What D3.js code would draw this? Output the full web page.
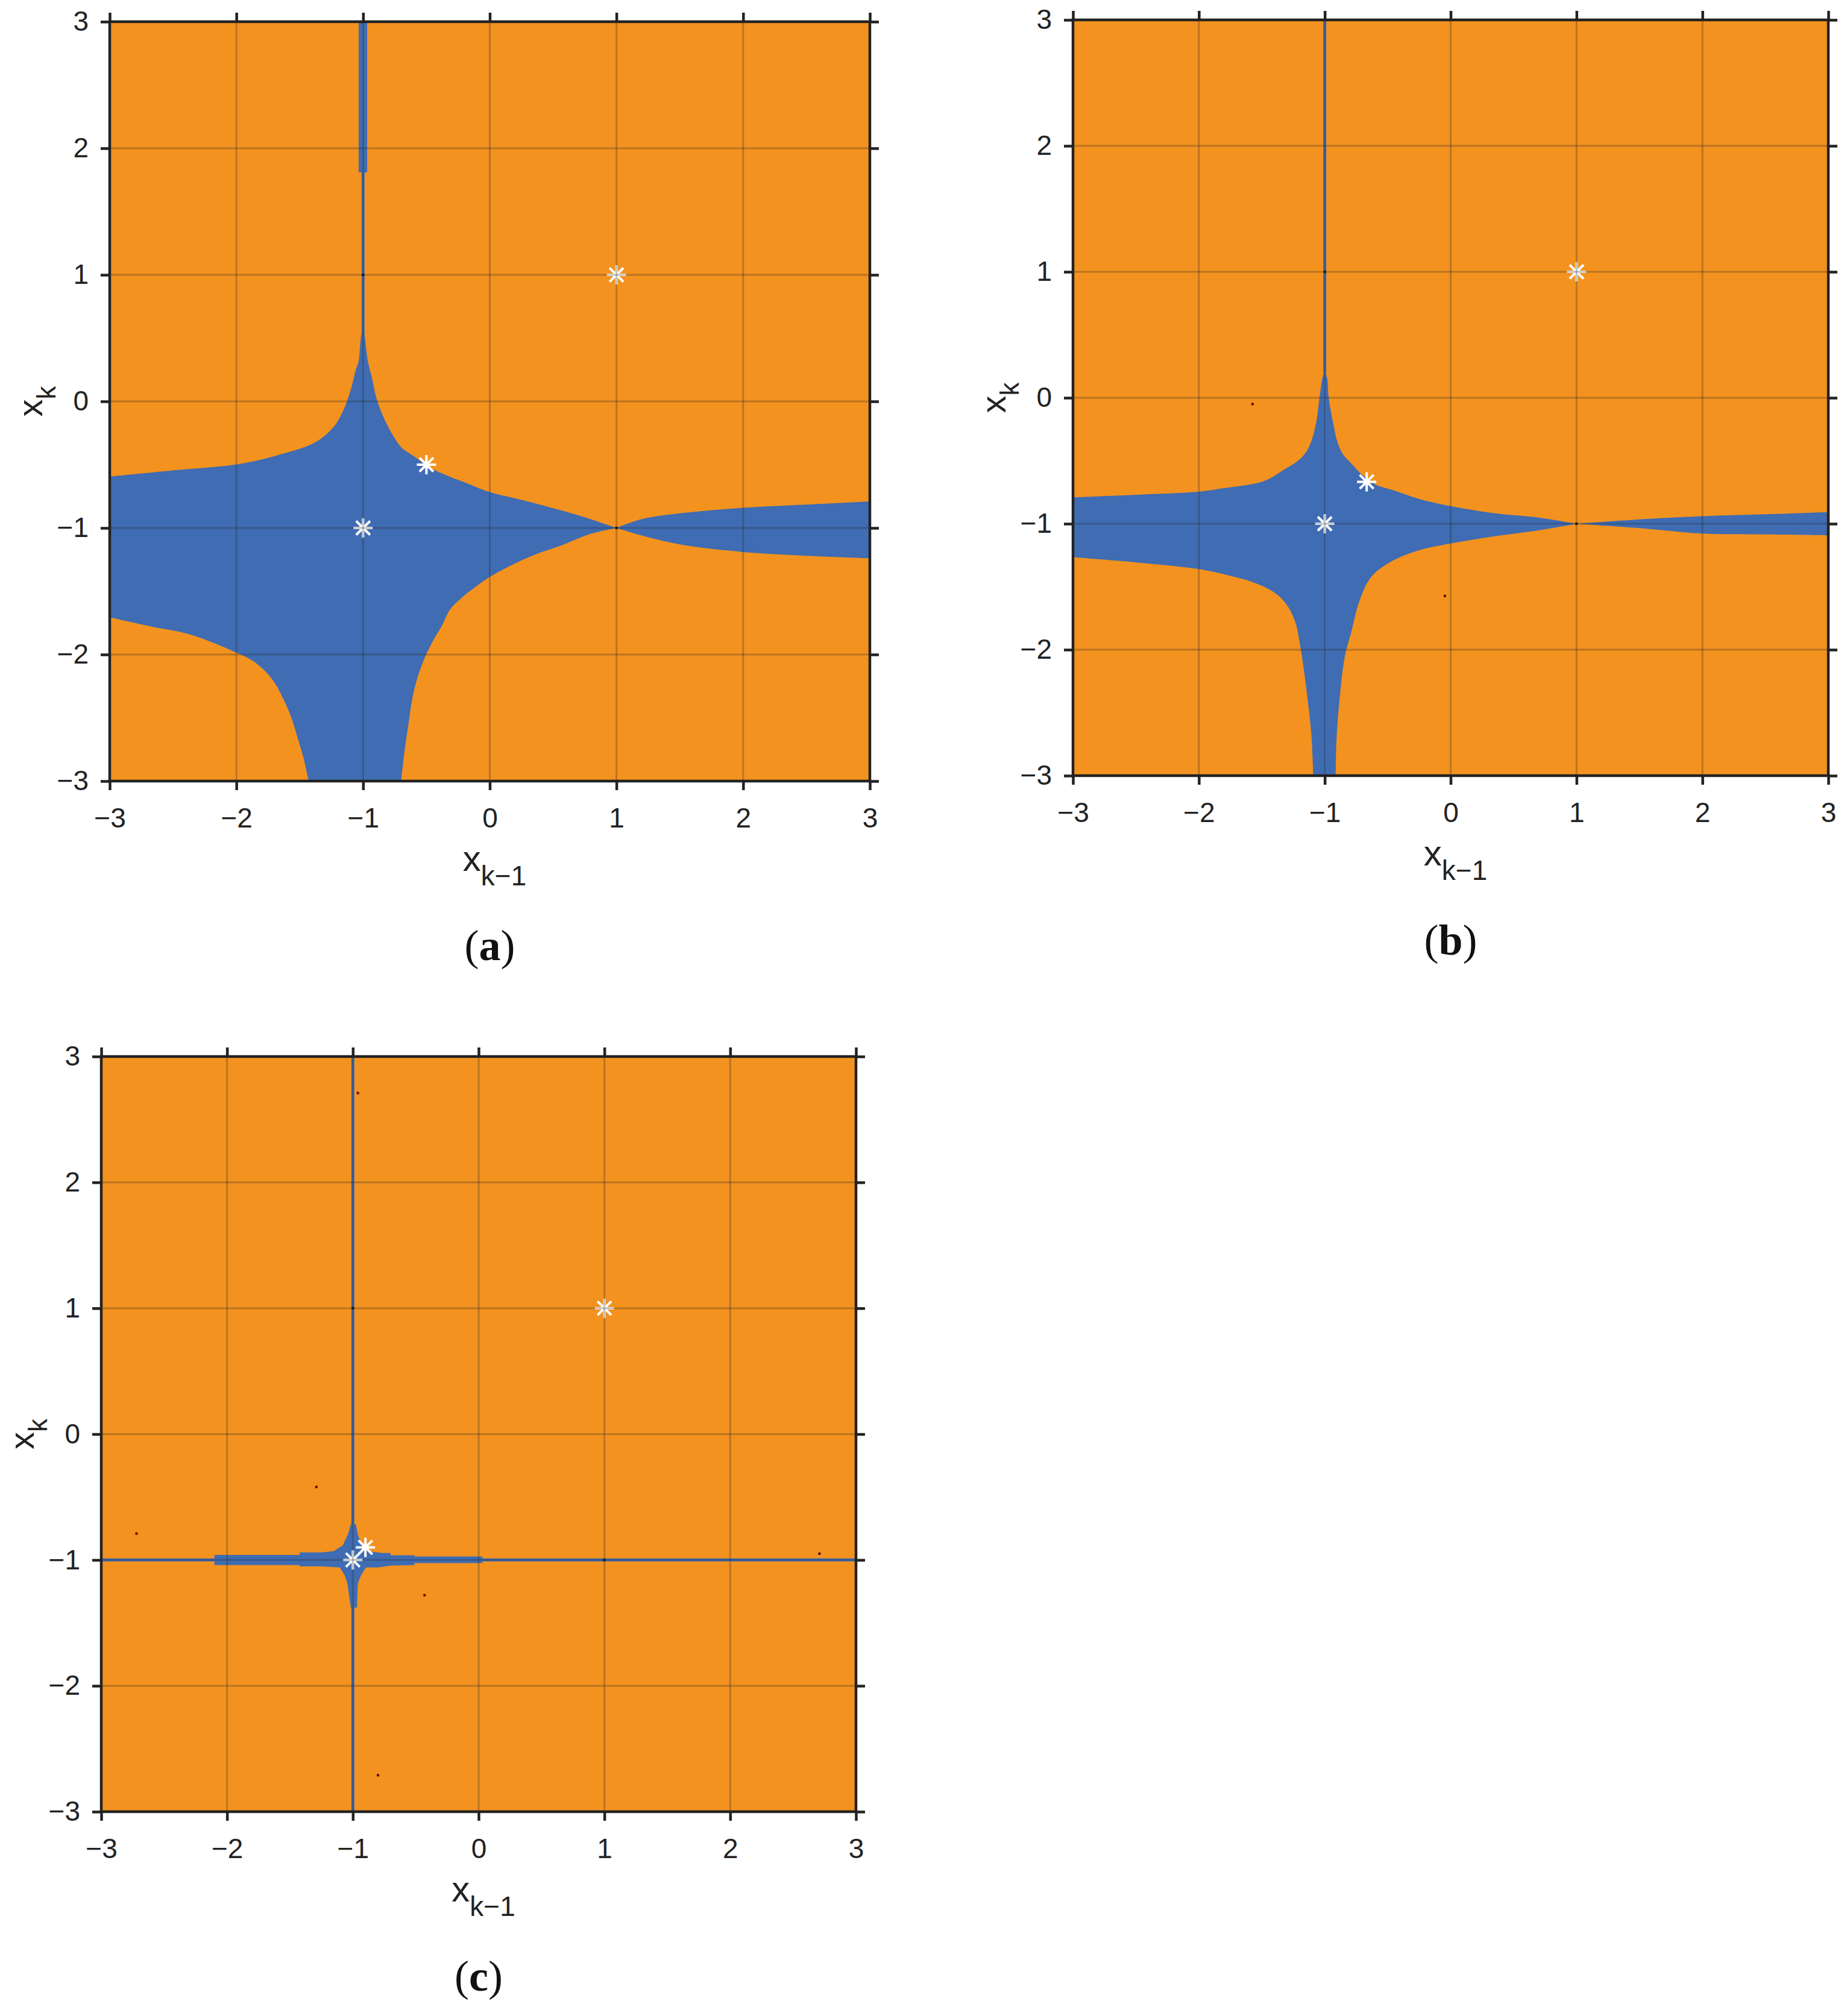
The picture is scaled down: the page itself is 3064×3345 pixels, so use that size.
<!DOCTYPE html>
<html>
<head>
<meta charset="utf-8">
<script src="https://cdn.jsdelivr.net/npm/d3@7"></script>
<style>
  body { margin: 0; background: #fff; }
</style>
</head>
<body>
<div id="vis"></div>
<script>
///////setting up/////////////////////////////////////////////////
var width = 3064
var height = 3345
const ticks = [-3, -2, -1, 0, 1, 2, 3]
const ORANGE = "#F3921F"
const BLUE = "#3F6CB3"

////////basin of the root -1 (blue), points are [x_{k-1}, x_k]////////
// corner points are listed twice so the smooth curve keeps them sharp
const basinA = [
  [-3, -0.594], [-3, -0.594], [-2.5, -0.545], [-1.972, -0.494], [-1.653, -0.419], [-1.377, -0.323],
  [-1.228, -0.196], [-1.16, -0.08], [-1.121, 0.017], [-1.089, 0.123], [-1.057, 0.251],
  [-1.036, 0.315], [-1.018, 0.5], [-1.0, 0.6], [-1.0, 0.6], [-0.985, 0.5], [-0.962, 0.315],
  [-0.93, 0.187], [-0.898, 0.038], [-0.845, -0.111], [-0.77, -0.26], [-0.696, -0.366],
  [-0.589, -0.44], [-0.483, -0.515], [-0.355, -0.579], [-0.164, -0.653], [0, -0.717],
  [0.262, -0.781], [0.581, -0.866], [0.794, -0.93], [1, -1], [1, -1],
  [1.2, -0.93], [1.5, -0.885], [2, -0.84], [2.5, -0.815], [3, -0.79], [3, -0.79],
  [3, -1.24], [3, -1.24], [2.5, -1.22], [2, -1.19], [1.5, -1.13], [1.2, -1.06], [1, -1], [1, -1],
  [0.794, -1.047], [0.581, -1.132], [0.368, -1.206], [0.155, -1.302], [0, -1.387],
  [-0.121, -1.472], [-0.228, -1.557], [-0.313, -1.643], [-0.377, -1.77], [-0.44, -1.877],
  [-0.504, -2.004], [-0.568, -2.174], [-0.611, -2.345], [-0.643, -2.557], [-0.674, -2.77],
  [-0.7, -3], [-0.7, -3], [-1.43, -3], [-1.43, -3],
  [-1.472, -2.81], [-1.515, -2.664], [-1.568, -2.494], [-1.632, -2.345], [-1.717, -2.196],
  [-1.845, -2.068], [-2.0, -1.985], [-2.37, -1.84], [-2.69, -1.775],
  [-3, -1.706], [-3, -1.706]
]
const bandA = [[-1.035, 1.81], [-0.968, 1.81], [-0.968, 3], [-1.035, 3]]
const spikeA = [[-1, 0.5], [-1, 3]]
const starsA = [[1, 1], [-1, -1], [-0.5, -0.5]]
const specksA = [[-1, 1], [1, -1]]

const basinB = [
  [-3, -0.79], [-3, -0.79], [-2.5, -0.77], [-2, -0.745], [-1.82, -0.72], [-1.49, -0.664],
  [-1.327, -0.573], [-1.19, -0.48], [-1.125, -0.39], [-1.07, -0.206], [-1.042, 0],
  [-1.02, 0.15], [-1.0, 0.22], [-1.0, 0.22], [-0.98, 0.15], [-0.969, 0], [-0.932, -0.206],
  [-0.9, -0.35], [-0.855, -0.45], [-0.795, -0.516], [-0.72, -0.596], [-0.666, -0.64],
  [-0.593, -0.69], [-0.446, -0.737], [-0.262, -0.8], [0, -0.86], [0.343, -0.916],
  [0.688, -0.95], [1, -1], [1, -1],
  [1.5, -0.965], [2, -0.94], [2.5, -0.925], [3, -0.908], [3, -0.908],
  [3, -1.092], [3, -1.092], [2.5, -1.085], [2, -1.078], [1.5, -1.035], [1, -1], [1, -1],
  [0.688, -1.054], [0.343, -1.1], [0, -1.157], [-0.262, -1.214], [-0.483, -1.306],
  [-0.629, -1.42], [-0.72, -1.6], [-0.794, -1.878], [-0.84, -2.05], [-0.877, -2.337],
  [-0.905, -2.68], [-0.914, -3], [-0.914, -3], [-1.092, -3], [-1.092, -3],
  [-1.106, -2.68], [-1.143, -2.337], [-1.19, -2.0], [-1.24, -1.764], [-1.32, -1.62],
  [-1.418, -1.535], [-1.565, -1.466], [-1.767, -1.409], [-2, -1.36], [-2.5, -1.307],
  [-3, -1.266], [-3, -1.266]
]
const spikeB = [[-1, 0.2], [-1, 3]]
const starsB = [[1, 1], [-1, -1], [-0.667, -0.667]]
const specksB = [[-1, 1], [1, -1], [-1.574, -0.05], [-0.046, -1.573]]

const basinC = [
  [-1.016, -0.716], [-0.976, -0.716], [-0.96, -0.8], [-0.928, -0.883], [-0.864, -0.931],
  [-0.77, -0.945], [-0.7, -0.945], [-0.7, -0.962], [-0.51, -0.962], [-0.51, -0.972],
  [0.03, -0.972], [0.03, -1.025], [-0.51, -1.025], [-0.51, -1.04], [-0.7, -1.045],
  [-0.8, -1.06], [-0.896, -1.059], [-0.936, -1.123], [-0.96, -1.187], [-0.968, -1.379],
  [-1.016, -1.379], [-1.043, -1.187], [-1.064, -1.123], [-1.104, -1.059], [-1.248, -1.051],
  [-1.423, -1.051], [-1.423, -1.04], [-2.1, -1.04], [-2.1, -0.96], [-1.423, -0.96],
  [-1.423, -0.94], [-1.248, -0.94], [-1.152, -0.93], [-1.08, -0.883], [-1.04, -0.8]
]
const spikeC = [[-1, -3], [-1, 3]]
const lineC = [[-3, -1], [3, -1]]
const starsC = [[1, 1], [-1, -1], [-0.9, -0.9]]
const specksC = [[-1, 1], [1, -1], [-0.96, 2.71], [-1.29, -0.42], [-2.72, -0.79],
  [-0.43, -1.28], [-0.8, -2.71], [2.71, -0.95]]

////////panel layout////////////////////////////////////////////
const panels = [
  {label: "a", left: 182, top: 36, w: 1261, h: 1260,
   regions: [{pts: basinA, smooth: true}, {pts: bandA, smooth: false}],
   lines: [spikeA], stars: starsA, specks: specksA},
  {label: "b", left: 1780, top: 33, w: 1253, h: 1254,
   regions: [{pts: basinB, smooth: true}],
   lines: [spikeB], stars: starsB, specks: specksB},
  {label: "c", left: 168, top: 1753, w: 1252, h: 1253,
   regions: [{pts: basinC, smooth: false}],
   lines: [spikeC, lineC], stars: starsC, specks: specksC}
]

const svg = d3.select("#vis")
  .append("svg")
  .attr("width", width)
  .attr("height", height)
  .attr("font-family", "'Liberation Sans', Arial, sans-serif")

svg.append("rect").attr("width", width).attr("height", height).attr("fill", "#fff")

function starPath(r) {
  const a = r * 0.72
  return `M${-r},0H${r}M0,${-r}V${r}M${-a},${-a}L${a},${a}M${-a},${a}L${a},${-a}`
}

panels.forEach(function(p) {
  const g = svg.append("g").attr("transform", `translate(${p.left},${p.top})`)
  const x = d3.scaleLinear().domain([-3, 3]).range([0, p.w])
  const y = d3.scaleLinear().domain([-3, 3]).range([p.h, 0])
  const smoothLine = d3.line().x(d => x(d[0])).y(d => y(d[1]))
    .curve(d3.curveCatmullRomClosed.alpha(0.5))
  const flatLine = d3.line().x(d => x(d[0])).y(d => y(d[1])).curve(d3.curveLinearClosed)
  const line = d3.line().x(d => x(d[0])).y(d => y(d[1]))

  g.append("clipPath").attr("id", "clip-" + p.label)
    .append("rect").attr("width", p.w).attr("height", p.h)

  const plot = g.append("g").attr("clip-path", `url(#clip-${p.label})`)

  // background = basin of root +1
  plot.append("rect").attr("width", p.w).attr("height", p.h).attr("fill", ORANGE)

  // basin of root -1
  plot.selectAll("path.basin")
    .data(p.regions)
    .join("path")
    .attr("class", "basin")
    .attr("d", d => d.smooth ? smoothLine(d.pts) : flatLine(d.pts))
    .attr("fill", BLUE)

  plot.selectAll("path.thin")
    .data(p.lines)
    .join("path")
    .attr("class", "thin")
    .attr("d", line)
    .attr("stroke", BLUE)
    .attr("stroke-width", 5)
    .attr("fill", "none")

  plot.selectAll("rect.speck")
    .data(p.specks)
    .join("rect")
    .attr("class", "speck")
    .attr("x", d => x(d[0]) - 2)
    .attr("y", d => y(d[1]) - 2)
    .attr("width", 4)
    .attr("height", 4)
    .attr("fill", (d, i) => i < 2 ? "#111" : "#5a0f05")

  plot.selectAll("path.star")
    .data(p.stars)
    .join("path")
    .attr("class", "star")
    .attr("transform", d => `translate(${x(d[0])},${y(d[1])})`)
    .attr("d", starPath(16))
    .attr("stroke", "#fff")
    .attr("stroke-width", 4)
    .attr("fill", "none")

  // grid on top
  const grid = plot.append("g").attr("stroke", "rgba(40,40,40,0.28)").attr("stroke-width", 3)
  grid.selectAll("line.gx").data(ticks.slice(1, -1)).join("line")
    .attr("class", "gx")
    .attr("x1", d => x(d)).attr("x2", d => x(d)).attr("y1", 0).attr("y2", p.h)
  grid.selectAll("line.gy").data(ticks.slice(1, -1)).join("line")
    .attr("class", "gy")
    .attr("y1", d => y(d)).attr("y2", d => y(d)).attr("x1", 0).attr("x2", p.w)

  // axes, ticks out on all four sides
  const fmt = d3.format("d")
  const axB = g.append("g").attr("transform", `translate(0,${p.h})`)
    .call(d3.axisBottom(x).tickValues(ticks).tickSize(15).tickPadding(29).tickFormat(fmt))
  const axL = g.append("g")
    .call(d3.axisLeft(y).tickValues(ticks).tickSize(15).tickPadding(20).tickFormat(fmt))
  const axT = g.append("g")
    .call(d3.axisTop(x).tickValues(ticks).tickSize(15).tickFormat(""))
  const axR = g.append("g").attr("transform", `translate(${p.w},0)`)
    .call(d3.axisRight(y).tickValues(ticks).tickSize(15).tickFormat(""))
  ;[axB, axL, axT, axR].forEach(a => {
    a.select(".domain").remove()
    a.selectAll("line").attr("stroke", "#222").attr("stroke-width", 4.5)
    a.selectAll("text").attr("font-size", 46).attr("fill", "#222")
      .attr("font-family", "'Liberation Sans', Arial, sans-serif")
  })

  g.append("rect").attr("width", p.w).attr("height", p.h)
    .attr("fill", "none").attr("stroke", "#222").attr("stroke-width", 4.5)

  // axis labels
  const xl = g.append("text")
    .attr("x", p.w / 2 + 8).attr("y", p.h + 149)
    .attr("text-anchor", "middle").attr("fill", "#222").attr("font-size", 60)
  xl.append("tspan").text("x")
  xl.append("tspan").attr("font-size", 46).attr("dy", 24).text("k\u22121")

  const yl = g.append("text")
    .attr("transform", `translate(-112,${p.h / 2}) rotate(-90)`)
    .attr("text-anchor", "middle").attr("fill", "#222").attr("font-size", 58)
  yl.append("tspan").text("x")
  yl.append("tspan").attr("font-size", 44).attr("dy", 22).text("k")

  // caption
  const cap = g.append("text")
    .attr("x", p.w / 2).attr("y", p.h + 297)
    .attr("text-anchor", "middle")
    .attr("font-family", "'Liberation Serif', 'Times New Roman', serif")
    .attr("font-size", 72).attr("fill", "#111")
  cap.append("tspan").text("(")
  cap.append("tspan").attr("font-weight", "bold").text(p.label)
  cap.append("tspan").text(")")
})
</script>
</body>
</html>
